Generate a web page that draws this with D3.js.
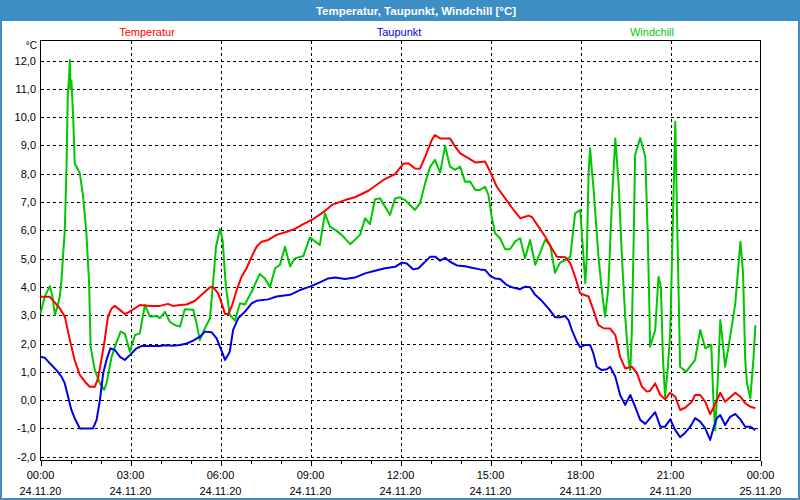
<!DOCTYPE html>
<html><head><meta charset="utf-8">
<script src="https://cdn.jsdelivr.net/npm/d3@7"></script>
<style>
html,body{margin:0;padding:0;background:#fff;}
text{font-family:"Liberation Sans",Arial,sans-serif;}
</style></head>
<body><svg id="c" width="800" height="500"></svg>
<script>
// ---- data (hours since 24.11.20 00:00, °C) ----
const title = "Temperatur, Taupunkt, Windchill [°C]";
const seriesNames = ["Temperatur", "Taupunkt", "Windchill"];
const yTicks = [-2,-1,0,1,2,3,4,5,6,7,8,9,10,11,12];
const xTickHours = [0,3,6,9,12,15,18,21,24];
const xTickTimes = ["00:00","03:00","06:00","09:00","12:00","15:00","18:00","21:00","00:00"];
const xTickDates = ["24.11.20","24.11.20","24.11.20","24.11.20","24.11.20","24.11.20","24.11.20","24.11.20","25.11.20"];

const tempTimes = [0,0.31,0.64,0.81,0.98,1.14,1.31,1.48,1.64,1.81,1.92,2.03,2.14,2.25,2.37,2.48,2.81,2.98,3.31,3.65,3.98,4.25,4.41,4.65,4.87,5.15,5.42,5.65,5.75,5.92,6.04,6.15,6.25,6.37,6.54,6.70,6.87,7.04,7.20,7.37,7.59,7.87,8.21,8.48,8.76,9.09,9.37,9.59,9.71,10.15,10.48,10.93,11.43,11.82,12.09,12.26,12.48,12.65,12.82,13.04,13.15,13.32,13.65,13.82,13.99,14.26,14.49,14.82,14.99,15.21,15.49,15.77,15.99,16.27,16.38,16.60,16.82,17.04,17.21,17.49,17.66,17.82,17.99,18.27,18.43,18.60,18.77,18.99,19.16,19.32,19.49,19.71,19.88,20.05,20.21,20.32,20.49,20.66,20.82,20.99,21.16,21.32,21.49,21.71,21.82,21.99,22.16,22.32,22.43,22.66,22.82,22.99,23.16,23.33,23.49,23.66,23.83];
const tempValues = [3.65,3.65,3.25,2.95,2.12,1.41,0.89,0.65,0.47,0.47,0.78,1.42,2.12,2.95,3.24,3.33,3.04,3.13,3.36,3.33,3.33,3.40,3.33,3.36,3.38,3.51,3.77,3.99,4.00,3.77,3.42,3.04,3.04,3.30,3.89,4.36,4.66,5.07,5.42,5.60,5.66,5.84,5.95,6.05,6.22,6.40,6.60,6.78,6.90,7.07,7.17,7.40,7.78,7.99,8.35,8.37,8.19,8.18,8.60,9.19,9.37,9.25,9.25,8.96,8.72,8.55,8.40,8.43,8.07,7.54,7.13,6.72,6.43,6.52,6.47,6.13,5.78,5.37,5.07,5.05,4.84,4.36,3.77,3.66,3.18,2.65,2.54,2.53,2.30,1.53,1.12,1.18,0.95,0.47,0.30,0.33,0.59,0.18,0.03,0.26,0.12,-0.35,-0.27,-0.06,0.18,0.18,-0.06,-0.50,-0.27,0.26,-0.06,0.10,0.26,0.12,-0.11,-0.23,-0.29];

const dewTimes = [0,0.14,0.31,0.53,0.70,0.81,0.92,1.03,1.14,1.31,1.75,1.87,1.98,2.09,2.20,2.33,2.48,2.65,2.81,2.98,3.20,3.37,3.98,4.15,4.42,4.65,4.87,5.09,5.31,5.48,5.70,5.87,5.98,6.07,6.15,6.31,6.42,6.59,6.81,7.04,7.20,7.59,7.87,8.32,8.65,8.98,9.31,9.59,9.82,10.15,10.48,10.82,11.15,11.48,11.82,12.04,12.21,12.43,12.60,12.82,12.99,13.15,13.32,13.49,13.65,13.88,14.15,14.38,14.65,14.82,14.99,15.15,15.32,15.54,15.71,15.99,16.15,16.32,16.49,16.71,16.93,17.15,17.32,17.49,17.60,17.71,17.88,17.99,18.16,18.32,18.43,18.54,18.71,18.88,18.99,19.16,19.32,19.49,19.66,19.82,19.99,20.16,20.32,20.49,20.66,20.82,20.99,21.16,21.32,21.49,21.66,21.82,21.99,22.16,22.32,22.43,22.54,22.66,22.82,22.99,23.16,23.33,23.49,23.66,23.83];
const dewValues = [1.53,1.50,1.30,1.06,0.83,0.59,0.12,-0.35,-0.64,-1.00,-1.00,-0.70,0.00,0.95,1.42,1.83,1.77,1.53,1.42,1.59,1.83,1.91,1.91,1.94,1.92,1.95,2.00,2.10,2.24,2.42,2.40,2.18,1.89,1.65,1.42,1.71,2.48,2.89,3.12,3.42,3.51,3.56,3.66,3.72,3.89,4.01,4.16,4.30,4.33,4.28,4.33,4.48,4.57,4.66,4.71,4.86,4.83,4.62,4.66,4.89,5.07,5.07,4.93,5.03,4.89,4.76,4.73,4.68,4.62,4.60,4.39,4.30,4.28,4.07,3.99,3.92,4.01,3.99,3.72,3.51,3.24,2.93,2.93,2.97,2.83,2.48,2.06,1.87,1.95,1.95,1.65,1.18,1.06,1.09,1.18,0.83,0.18,-0.17,0.18,-0.23,-0.70,-0.84,-0.64,-0.43,-0.94,-0.94,-0.68,-1.06,-1.31,-1.15,-0.94,-0.64,-0.76,-1.00,-1.41,-1.00,-0.64,-0.53,-0.88,-0.59,-0.49,-0.68,-0.94,-0.94,-1.06];

const chillTimes = [0,0.14,0.31,0.40,0.48,0.55,0.64,0.70,0.75,0.81,0.87,0.91,0.94,0.98,1.00,1.03,1.09,1.14,1.31,1.42,1.53,1.62,1.67,1.81,1.98,2.12,2.20,2.37,2.54,2.67,2.81,2.98,3.15,3.31,3.48,3.65,3.87,3.98,4.15,4.31,4.48,4.65,4.81,5.09,5.20,5.31,5.48,5.65,5.76,5.85,5.98,6.07,6.18,6.31,6.48,6.65,6.81,7.04,7.31,7.48,7.65,7.82,7.98,8.15,8.32,8.48,8.76,8.98,9.31,9.48,9.65,9.87,10.04,10.32,10.65,10.82,10.98,11.15,11.32,11.65,11.82,11.99,12.15,12.48,12.65,12.82,12.99,13.15,13.32,13.49,13.65,13.82,13.99,14.15,14.32,14.49,14.65,14.82,14.93,15.04,15.15,15.32,15.49,15.65,15.82,15.99,16.15,16.32,16.49,16.65,16.82,16.99,17.15,17.32,17.49,17.66,17.82,17.99,18.10,18.16,18.21,18.27,18.32,18.38,18.43,18.60,18.71,18.82,18.93,19.05,19.16,19.27,19.38,19.49,19.60,19.66,19.71,19.77,19.82,19.99,20.16,20.24,20.30,20.32,20.49,20.60,20.68,20.75,20.82,20.90,20.99,21.07,21.16,21.23,21.32,21.52,21.82,21.99,22.16,22.36,22.43,22.49,22.57,22.66,22.71,22.82,22.99,23.16,23.33,23.42,23.49,23.55,23.66,23.77,23.83];
const chillValues = [3.07,3.65,4.03,3.65,3.01,3.25,3.65,4.25,5.07,6.01,8.37,10.8,11.2,12.02,11.0,11.3,10.0,8.37,8.02,7.19,5.90,4.13,1.89,1.06,0.59,0.36,0.59,1.53,2.06,2.42,2.35,1.71,2.30,2.36,3.36,2.95,2.97,2.90,3.12,2.77,2.65,2.60,3.21,3.19,2.71,2.12,2.54,2.89,4.25,5.42,6.05,5.66,4.01,3.01,2.81,3.42,3.38,3.83,4.46,4.30,3.99,4.66,4.78,5.42,4.72,5.01,5.09,5.75,5.48,6.60,6.13,5.98,5.84,5.51,5.84,6.43,6.22,7.10,7.13,6.54,7.13,7.17,7.07,6.72,6.96,7.66,8.25,8.49,8.04,8.98,8.25,8.14,8.25,7.72,7.73,7.43,7.43,7.54,7.25,6.48,5.90,5.72,5.33,5.33,5.60,5.72,5.01,5.66,4.78,5.19,5.66,5.48,4.50,4.86,4.95,5.07,6.60,6.72,5.07,4.13,5.07,8.02,8.90,8.10,7.54,5.07,3.89,2.95,4.01,7.07,9.25,7.66,5.07,2.95,1.42,1.06,2.36,5.54,8.66,9.26,8.60,5.90,3.07,1.89,2.48,4.36,4.00,1.42,0.12,1.00,2.36,5.90,9.84,5.90,1.18,1.00,1.42,2.48,1.83,1.95,0.00,-1.06,0.59,2.83,2.36,1.18,2.24,3.42,5.60,4.47,1.42,0.59,0.06,1.53,2.65];

const seriesColors = ["#ff0000", "#0000e6", "#00c800"];

// ---- drawing ----
const svg = d3.select("#c");
const W = 800, H = 500;
const pLeft = 40.5, pRight = 760.5, pTop = 40.5, pBottom = 460.5;

const x = d3.scaleLinear().domain([0, 24]).range([pLeft, pRight]);
const y = d3.scaleLinear().domain([-2.135, 12.71]).range([pBottom, pTop]);

// window frame
svg.append("rect").attr("x",0).attr("y",0).attr("width",W).attr("height",H).attr("fill","#3d8ec4");
svg.append("rect").attr("x",2).attr("y",21).attr("width",W-4).attr("height",H-23).attr("fill","#fff");
svg.append("text").attr("x",416).attr("y",15).attr("text-anchor","middle")
  .attr("fill","#fff").attr("font-weight","bold").attr("font-size","11.5px").text(title);

// legend
const legendX = [147, 399, 652];
seriesNames.forEach((n,i)=>{
  svg.append("text").attr("x",legendX[i]).attr("y",36).attr("text-anchor","middle")
    .attr("fill",seriesColors[i]).attr("font-size","11px").text(n);
});

// grid
const g = svg.append("g");
g.selectAll(".hg").data(yTicks).enter().append("line")
  .attr("x1",pLeft).attr("x2",pRight)
  .attr("y1",d=>Math.round(y(d))+0.5).attr("y2",d=>Math.round(y(d))+0.5)
  .attr("stroke","#000").attr("stroke-dasharray","3,3").attr("shape-rendering","crispEdges");
g.selectAll(".vg").data(xTickHours.filter(h=>h>0&&h<24)).enter().append("line")
  .attr("y1",pTop).attr("y2",pBottom)
  .attr("x1",d=>Math.round(x(d))+0.5).attr("x2",d=>Math.round(x(d))+0.5)
  .attr("stroke","#000").attr("stroke-dasharray","3,3").attr("shape-rendering","crispEdges");

// frame of plot
svg.append("rect").attr("x",pLeft).attr("y",pTop).attr("width",pRight-pLeft).attr("height",pBottom-pTop)
  .attr("fill","none").attr("stroke","#000").attr("shape-rendering","crispEdges");

// x axis ticks (major 3h, minor 1h)
const xAxisMajor = d3.axisBottom(x).tickValues(xTickHours).tickSize(5).tickFormat("");
const xAxisMinor = d3.axisBottom(x).tickValues(d3.range(0,25,1)).tickSize(3).tickFormat("");
const ax1 = svg.append("g").attr("transform",`translate(0,${pBottom})`).call(xAxisMinor);
const ax2 = svg.append("g").attr("transform",`translate(0,${pBottom})`).call(xAxisMajor);
[ax1,ax2].forEach(a=>{a.select(".domain").remove(); a.selectAll("line").attr("stroke","#000").attr("shape-rendering","crispEdges");});

// x labels
xTickHours.forEach((h,i)=>{
  svg.append("text").attr("x",x(h)).attr("y",479).attr("text-anchor","middle")
    .attr("font-size","11px").attr("fill","#000").text(xTickTimes[i]);
  svg.append("text").attr("x",x(h)).attr("y",495).attr("text-anchor","middle")
    .attr("font-size","11px").attr("fill","#000").text(xTickDates[i]);
});

// y labels
const fmt = d => d3.format(".1f")(d).replace(".", ",").replace("−","-");
yTicks.forEach(t=>{
  svg.append("text").attr("x",36).attr("y",y(t)+4).attr("text-anchor","end")
    .attr("font-size","11px").attr("fill","#000").text(fmt(t));
});
svg.append("text").attr("x",37).attr("y",49).attr("text-anchor","end")
  .attr("font-size","10px").attr("fill","#000").text("°C");

// series
const mk = (ts, vs) => ts.map((t,i)=>[t, vs[i]]);
const series = [mk(tempTimes,tempValues), mk(dewTimes,dewValues), mk(chillTimes,chillValues)];
const line = d3.line().x(d=>x(d[0])).y(d=>y(d[1]));
// draw order: windchill, temperature, dewpoint
[2,0,1].forEach(i=>{
  svg.append("path").attr("d",line(series[i])).attr("fill","none")
    .attr("stroke",seriesColors[i]).attr("stroke-width",2).attr("stroke-linejoin","round");
});
</script></body></html>
